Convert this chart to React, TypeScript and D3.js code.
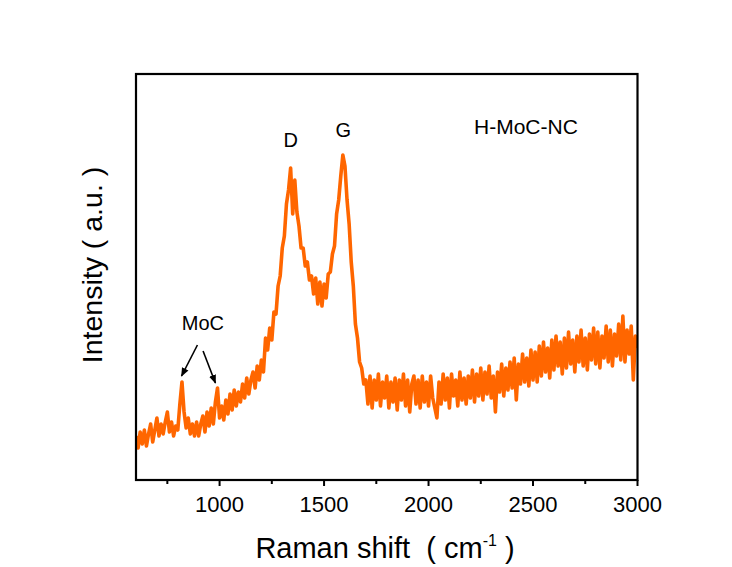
import React, { useEffect } from "react";
import * as d3 from "d3";

// Raman shift (cm^-1), sampled every 10 cm^-1 from 600 to 3000
const shiftStart = 600;
const shiftStep = 10;

// Intensity (a.u.), 10 values per 100 cm^-1
const intensity: number[] = [
  // 600-690
  44, 32, 48, 36, 50, 34, 46, 56, 38, 50,
  // 700-790
  62, 44, 56, 46, 58, 68, 48, 58, 44, 54,
  // 800-890
  50, 76, 98, 68, 52, 62, 46, 56, 44, 58,
  // 900-990
  44, 56, 64, 48, 68, 54, 72, 56, 78, 92,
  // 1000-1090
  62, 74, 60, 80, 66, 86, 70, 90, 74, 88,
  // 1100-1190
  78, 96, 82, 102, 86, 100, 108, 92, 114, 100,
  // 1200-1290
  120, 108, 142, 130, 152, 140, 168, 166, 194, 204,
  // 1300-1390
  232, 244, 276, 290, 312, 266, 300, 268, 254, 232,
  // 1400-1490
  232, 214, 218, 200, 204, 186, 202, 176, 198, 174,
  // 1500-1590
  196, 182, 206, 208, 226, 234, 266, 280, 304, 325,
  // 1600-1690
  314, 280, 256, 218, 194, 156, 142, 118, 112, 96,
  // 1700-1790
  100, 76, 104, 72, 100, 80, 106, 74, 98, 82,
  // 1800-1890
  104, 72, 98, 78, 102, 70, 100, 80, 106, 74,
  // 1900-1990
  100, 68, 96, 104, 76, 100, 72, 104, 78, 98,
  // 2000-2090
  74, 104, 82, 72, 62, 98, 76, 106, 80, 102,
  // 2100-2190
  72, 106, 84, 100, 74, 108, 80, 102, 76, 104,
  // 2200-2290
  82, 110, 78, 106, 84, 112, 80, 108, 86, 114,
  // 2300-2390
  82, 104, 68, 108, 88, 116, 84, 112, 90, 118,
  // 2400-2490
  92, 122, 80, 116, 96, 126, 98, 122, 94, 130,
  // 2500-2590
  100, 128, 98, 134, 104, 138, 108, 132, 102, 140,
  // 2600-2690
  110, 144, 114, 138, 106, 142, 112, 148, 116, 140,
  // 2700-2790
  108, 144, 118, 150, 114, 142, 110, 146, 120, 152,
  // 2800-2890
  116, 148, 112, 144, 122, 154, 118, 150, 114, 146,
  // 2900-2990
  124, 156, 120, 164, 118, 150, 126, 154, 100, 144,
  // 3000
  132,
];

const majorTicks = [1000, 1500, 2000, 2500, 3000];
const minorTicks = [750, 1250, 1750, 2250, 2750];

const xDomain: [number, number] = [600, 3000];
const yDomain: [number, number] = [0, 406];

// peak labels: [text, shift, intensity]
const peakLabels: [string, number, number][] = [
  ["D", 1340, 333],
  ["G", 1592, 343],
];
// MoC arrows: [fromShift, fromIntensity, toShift, toIntensity]
const mocArrows: [number, number, number, number][] = [
  [894, 135, 818, 104],
  [921, 129, 980, 97],
];

const W = 732;
const H = 567;
const left = 136;
const right = 637.5;
const top = 74;
const bottom = 480;

export default function App() {
  useEffect(() => {
    document.body.style.margin = "0";
  }, []);

  const x = d3.scaleLinear().domain(xDomain).range([left, right]);
  const y = d3.scaleLinear().domain(yDomain).range([bottom, top]);

  const pts: [number, number][] = intensity.map((v, i) => [shiftStart + i * shiftStep, v]);
  const line = d3
    .line<[number, number]>()
    .x((d) => x(d[0]))
    .y((d) => y(d[1]));

  const font = "'Liberation Sans', Arial, sans-serif";
  const orange = "#ff6600";

  return (
    <svg width={W} height={H} style={{ display: "block", background: "#fff" }}>
      <defs>
        <marker id="ah" viewBox="0 0 10 10" refX="9" refY="5" markerWidth="9" markerHeight="9" orient="auto-start-reverse" markerUnits="userSpaceOnUse">
          <path d="M0,1 L10,5 L0,9 z" fill="#000" />
        </marker>
        <clipPath id="plotclip">
          <rect x={left} y={top} width={right - left} height={bottom - top} />
        </clipPath>
      </defs>
      <rect width={W} height={H} fill="#fff" />

      <path d={line(pts) || ""} fill="none" stroke={orange} strokeWidth={3.6} strokeLinejoin="round" clipPath="url(#plotclip)" />

      {/* frame */}
      <rect x={left} y={top} width={right - left} height={bottom - top} fill="none" stroke="#000" strokeWidth={2.2} />

      {/* x ticks */}
      {majorTicks.map((t) => (
        <g key={"M" + t}>
          <line x1={x(t)} x2={x(t)} y1={bottom} y2={bottom + 6} stroke="#000" strokeWidth={2} />
          <text x={x(t)} y={512} textAnchor="middle" fontFamily={font} fontSize={22} fill="#000">
            {t}
          </text>
        </g>
      ))}
      {minorTicks.map((t) => (
        <line key={"m" + t} x1={x(t)} x2={x(t)} y1={bottom} y2={bottom + 4} stroke="#000" strokeWidth={2} />
      ))}

      {/* axis titles */}
      <text x={385} y={558} textAnchor="middle" fontFamily={font} fontSize={29} fill="#000">
        Raman shift{"\u00a0\u00a0"}({"\u00a0"}cm
        <tspan fontSize={16} dy={-12}>-1</tspan>
        <tspan dy={12}>{"\u00a0"})</tspan>
      </text>
      <text transform={`translate(102,265) rotate(-90)`} textAnchor="middle" fontFamily={font} fontSize={28.5} fill="#000">
        Intensity ( a.u. )
      </text>

      {/* annotations */}
      <text x={474} y={134} fontFamily={font} fontSize={21} fill="#000">
        H-MoC-NC
      </text>
      {peakLabels.map(([s, px, py]) => (
        <text key={s} x={x(px)} y={y(py)} textAnchor="middle" fontFamily={font} fontSize={20} fill="#000">
          {s}
        </text>
      ))}
      <text x={x(920)} y={y(150)} textAnchor="middle" fontFamily={font} fontSize={20} fill="#000">
        MoC
      </text>
      {mocArrows.map(([a, b, c, d], i) => (
        <line key={i} x1={x(a)} y1={y(b)} x2={x(c)} y2={y(d)} stroke="#000" strokeWidth={1.6} markerEnd="url(#ah)" />
      ))}
    </svg>
  );
}
